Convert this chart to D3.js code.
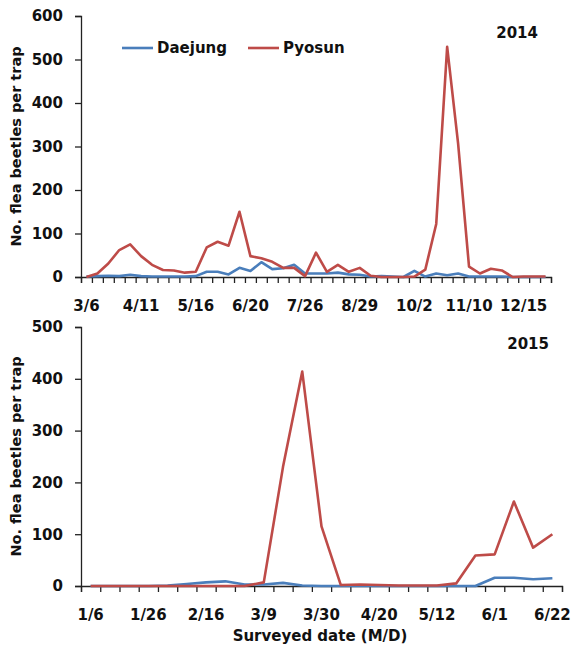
<!DOCTYPE html>
<html>
<head>
<meta charset="utf-8">
<script src="https://cdn.jsdelivr.net/npm/d3@7"></script>
<style>
  body { margin: 0; background: #fff; }
  svg text { font-family: "DejaVu Sans", sans-serif; font-weight: bold; fill: #111; }
</style>
</head>
<body>
<div id="chart"></div>
<script>
// 2014 survey (weekly traps), label every 5th date
const tickLabels2014 = ["3/6", "4/11", "5/16", "6/20", "7/26", "8/29", "10/2", "11/10", "12/15"];
const daejung2014 = [1, 2, 3, 2, 5, 2, 1, 1, 1, 1, 2, 12, 12, 6, 21, 14, 34, 18, 20, 28, 8, 8, 8, 10, 6, 5, 1, 2, 1, 0, 14, 1, 8, 4, 8, 1, 1, 1, 1, 0, 0, 0, 0];
const pyosun2014 = [0, 8, 31, 62, 75, 48, 28, 16, 15, 10, 12, 68, 81, 72, 150, 48, 43, 35, 21, 21, 2, 56, 12, 28, 12, 21, 3, 0, 0, 0, 1, 17, 122, 529, 307, 24, 8, 19, 15, 0, 1, 1, 1];

// 2015 survey, label every 3rd date
const tickLabels2015 = ["1/6", "1/26", "2/16", "3/9", "3/30", "4/20", "5/12", "6/1", "6/22"];
const daejung2015 = [0, 0, 0, 0, 1, 4, 7, 9, 3, 3, 6, 1, 0, 0, 0, 0, 0, 0, 0, 0, 0, 16, 16, 13, 15];
const pyosun2015 = [0, 0, 0, 0, 0, 0, 0, 0, 0, 7, 230, 414, 115, 2, 3, 2, 1, 1, 1, 5, 59, 61, 163, 74, 100];

const seriesNames = ["Daejung", "Pyosun"];
const colors = { Daejung: "#4a7ebb", Pyosun: "#be4b48" };

const svg = d3.select("#chart").append("svg")
    .attr("width", 575)
    .attr("height", 647);

function drawPanel(cfg) {
    const n = cfg.series[0].values.length;
    const g = svg.append("g")
        .attr("transform", "translate(" + cfg.left + "," + cfg.top + ")");

    const x = d3.scaleBand().domain(d3.range(n)).range([0, cfg.width]).padding(0);
    const xEdge = d3.scaleLinear().domain([0, n]).range([0, cfg.width]);
    const y = d3.scaleLinear().domain([0, cfg.max]).range([cfg.height, 0]);

    // y axis
    const yAxis = g.append("g")
        .call(d3.axisLeft(y).ticks(cfg.max / 100).tickSize(6).tickPadding(12));
    yAxis.selectAll("text").style("font-size", "15px");

    // x axis: tick marks on the band edges
    g.append("g")
        .attr("transform", "translate(0," + cfg.height + ")")
        .call(d3.axisBottom(xEdge).tickValues(d3.range(n + 1)).tickFormat("").tickSize(6));

    // x axis: date labels every few bands
    const labelIdx = cfg.labels.map((v, i) => i * cfg.every);
    const xLab = g.append("g")
        .attr("transform", "translate(0," + cfg.height + ")")
        .call(d3.axisBottom(x).tickValues(labelIdx)
            .tickFormat((d, i) => cfg.labels[i]).tickSize(0).tickPadding(23));
    xLab.select(".domain").remove();
    xLab.selectAll("text").style("font-size", "15px");

    svg.selectAll(".domain, .tick line").attr("stroke", "#222").attr("stroke-width", 1.3);

    const line = d3.line()
        .x((d, i) => x(i) + x.bandwidth() / 2)
        .y(d => y(d));

    cfg.series.forEach(s => {
        g.append("path")
            .datum(s.values)
            .attr("fill", "none")
            .attr("stroke", colors[s.name])
            .attr("stroke-width", 2.6)
            .attr("stroke-linejoin", "round")
            .attr("d", line);
    });

    g.append("text")
        .attr("x", cfg.width - 13)
        .attr("y", cfg.yearY)
        .attr("text-anchor", "end")
        .style("font-size", "15px")
        .text(cfg.year);

    g.append("text")
        .attr("transform", "translate(" + (-60) + "," + (cfg.height / 2) + ") rotate(-90)")
        .attr("text-anchor", "middle")
        .style("font-size", "14.5px")
        .text("No. flea beetles per trap");

    return g;
}

const panel2014 = drawPanel({
    left: 81, top: 16, width: 470, height: 261, max: 600,
    labels: tickLabels2014, every: 5, year: "2014", yearY: 22,
    series: [{ name: "Daejung", values: daejung2014 }, { name: "Pyosun", values: pyosun2014 }]
});

const panel2015 = drawPanel({
    left: 81, top: 327, width: 481, height: 259, max: 500,
    labels: tickLabels2015, every: 3, year: "2015", yearY: 22,
    series: [{ name: "Daejung", values: daejung2015 }, { name: "Pyosun", values: pyosun2015 }]
});

// legend (top panel)
const legend = panel2014.selectAll(".legend")
    .data(seriesNames)
    .enter().append("g")
    .attr("class", "legend")
    .attr("transform", (d, i) => "translate(" + (41 + i * 126) + ",32)");
legend.append("line")
    .attr("x1", 0).attr("x2", 31)
    .attr("stroke", d => colors[d])
    .attr("stroke-width", 2.6);
legend.append("text")
    .attr("x", 35)
    .attr("dy", "0.35em")
    .style("font-size", "15px")
    .text(d => d);

// shared x title
panel2015.append("text")
    .attr("x", 239)
    .attr("y", 314)
    .attr("text-anchor", "middle")
    .style("font-size", "15px")
    .text("Surveyed date (M/D)");
</script>
</body>
</html>
